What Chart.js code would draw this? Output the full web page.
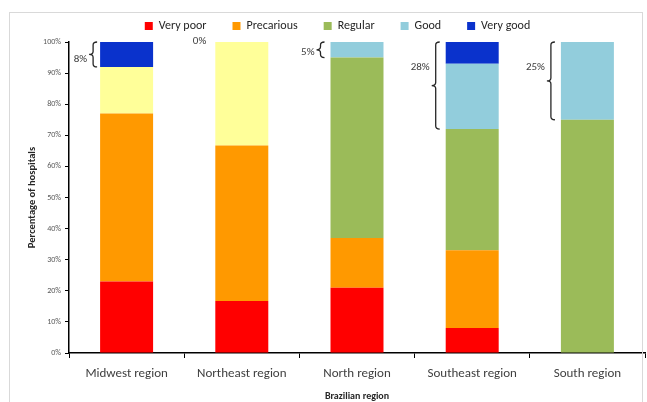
<!DOCTYPE html>
<html>
<head>
<meta charset="utf-8">
<script src="https://cdn.jsdelivr.net/npm/chart.js@4"></script>
<style>
  html, body { margin: 0; padding: 0; background: #fff; }
  #wrap { position: relative; width: 647px; height: 402px; overflow: hidden; }
  canvas { position: absolute; left: 0; top: 0; }
  #frame { position: absolute; left: 9px; top: 12px; width: 634px; height: 400px;
           border: 1px solid #d9d9d9; box-sizing: border-box; pointer-events: none; }
</style>
</head>
<body>
<div id="wrap">
  <canvas id="c" width="647" height="402"></canvas>
  <div id="frame"></div>
</div>
<script>
// Share of hospitals by condition, per Brazilian region (%)
const regions     = ['Midwest region', 'Northeast region', 'North region', 'Southeast region', 'South region'];
const veryPoor    = [23, 16.7, 21, 8, 0];
const precarious  = [54, 50, 16, 25, 0];
const unrated     = [15, 33.3, 0, 0, 0];
const regular     = [0, 0, 58, 39, 75];
const good        = [0, 0, 5, 21, 25];
const veryGood    = [8, 0, 0, 7, 0];
const yTickValues = [0, 10, 20, 30, 40, 50, 60, 70, 80, 90, 100];

const FONT = "Carlito, Lato, 'Open Sans', sans-serif";

// Curly braces marking the Good + Very good share on the left of each bar
const bracePlugin = {
  id: 'braces',
  afterLayout(chart) {
    // nudge the legend row slightly right of the full-width centre
    chart.legend.left += 6;
    chart.legend.right += 6;
  },
  afterDatasetsDraw(chart) {
    const ctx = chart.ctx;
    const ys = chart.scales.y;
    const meta = chart.getDatasetMeta(0);
    ctx.save();
    ctx.font = '11px ' + FONT;
    ctx.fillStyle = '#404040';
    ctx.textBaseline = 'middle';
    ctx.textAlign = 'right';
    regions.forEach((r, i) => {
      const share = good[i] + veryGood[i];
      const bar = meta.data[i];
      const barLeft = bar.x - bar.width / 2;
      const yTop = ys.getPixelForValue(100);
      const label = Math.round(share) + '%';
      if (share <= 0) {
        ctx.fillText(label, barLeft - 9, yTop - 1);
        return;
      }
      const yBot = ys.getPixelForValue(100 - share);
      const gap = i === 0 ? 3 : 6;
      const w = 8;
      const xR = barLeft - gap, xM = xR - w / 2, xL = xR - w;
      const ym = (yTop + yBot) / 2;
      const rr = 3;
      ctx.beginPath();
      ctx.strokeStyle = '#262626';
      ctx.lineWidth = 1.3;
      ctx.moveTo(xR, yTop);
      ctx.quadraticCurveTo(xM, yTop, xM, yTop + rr);
      ctx.lineTo(xM, ym - rr);
      ctx.quadraticCurveTo(xM, ym, xL, ym);
      ctx.quadraticCurveTo(xM, ym, xM, ym + rr);
      ctx.lineTo(xM, yBot - rr);
      ctx.quadraticCurveTo(xM, yBot, xR, yBot);
      ctx.stroke();
      const tall = (yBot - yTop) > 40;
      const ly = tall ? yTop + 25 : (i === 0 ? ym + 5 : ym + 2);
      ctx.fillText(label, xL - 2, ly);
    });
    ctx.restore();
  }
};

const ds = (label, data, color) => ({
  label, data, backgroundColor: color, borderWidth: 0,
  barPercentage: 0.46, categoryPercentage: 1
});

new Chart(document.getElementById('c'), {
  type: 'bar',
  data: {
    labels: regions,
    datasets: [
      ds('Very poor', veryPoor, '#ff0000'),
      ds('Precarious', precarious, '#ff9900'),
      ds('Unrated', unrated, '#ffff99'),
      ds('Regular', regular, '#9bbb59'),
      ds('Good', good, '#92cddc'),
      ds('Very good', veryGood, '#0a32cc')
    ]
  },
  options: {
    responsive: false,
    animation: false,
    layout: { padding: { left: 18, right: 2, top: -6, bottom: 0 } },
    plugins: {
      tooltip: { enabled: false },
      legend: {
        position: 'top',
        labels: {
          filter: item => item.text !== 'Unrated',
          boxWidth: 8, boxHeight: 8, padding: 26,
          color: '#262626',
          font: { family: FONT, size: 12 }
        }
      }
    },
    scales: {
      x: {
        stacked: true,
        grid: { display: true, drawOnChartArea: false, tickLength: 5, color: '#000', offset: true },
        border: { color: '#000', width: 1.5 },
        ticks: { color: '#404040', padding: 8, font: { family: FONT, size: 13 } },
        title: { display: true, text: 'Brazilian region', color: '#262626',
                 font: { family: FONT, size: 10, weight: 'bold' }, padding: { top: 4, bottom: 0 } },
        afterFit(s) { s.height = 49; }
      },
      y: {
        stacked: true, min: 0, max: 100,
        afterBuildTicks(s) { s.ticks = yTickValues.map(v => ({ value: v })); },
        grid: { display: true, drawOnChartArea: false, tickLength: 4, color: '#000' },
        border: { color: '#000', width: 1.5 },
        ticks: { color: '#595959', padding: 4, font: { family: FONT, size: 8 },
                 callback: v => v + '%' },
        title: { display: true, text: 'Percentage of hospitals', color: '#262626',
                 font: { family: FONT, size: 10.5, weight: 'bold' }, padding: { top: 8, bottom: 4 } },
        afterFit(s) { s.width = 51; }
      }
    }
  },
  plugins: [bracePlugin]
});
</script>
</body>
</html>
